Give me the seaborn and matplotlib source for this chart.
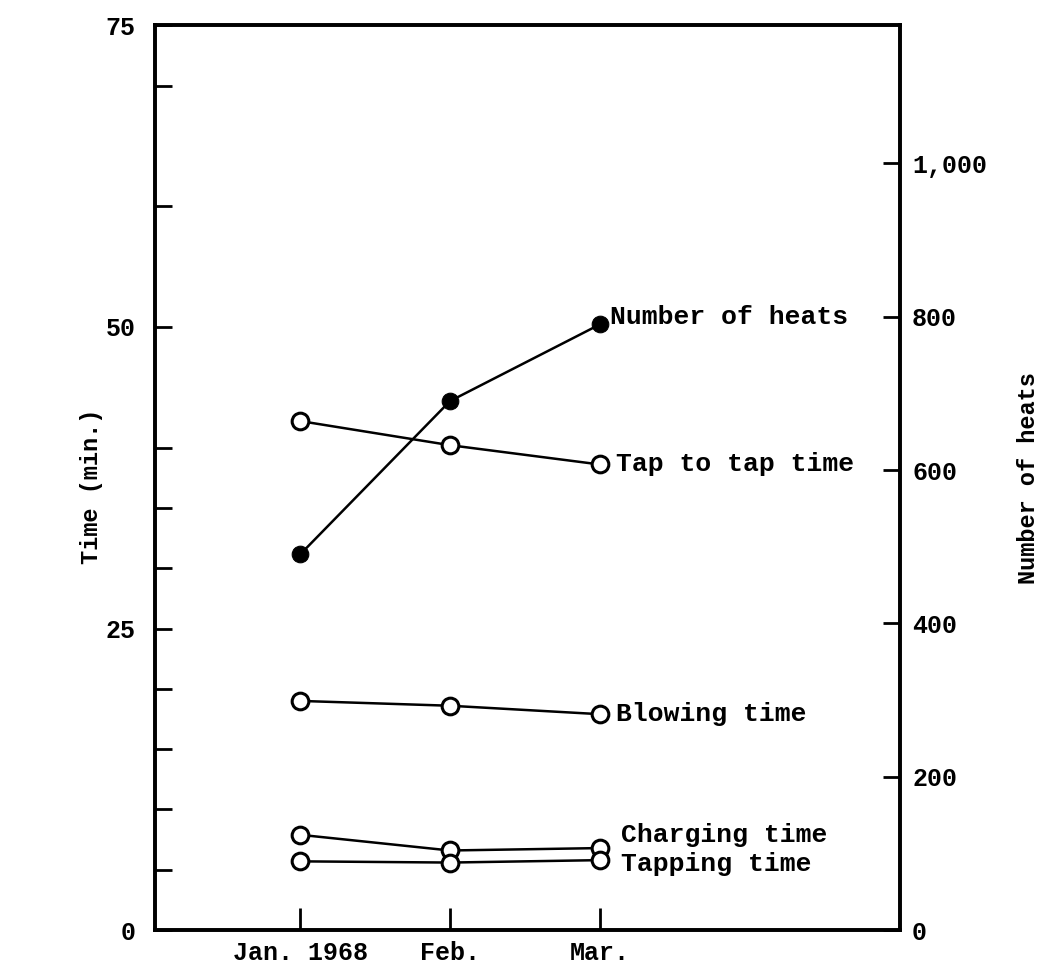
import seaborn as sns
import matplotlib.pyplot as plt
import pandas as pd
import numpy as np

sns.set_style("ticks")
plt.rcParams['font.family'] = ['Liberation Mono', 'DejaVu Sans Mono']
plt.rcParams['font.weight'] = 'bold'
plt.rcParams['text.color'] = 'black'
plt.rcParams['xtick.color'] = 'black'
plt.rcParams['ytick.color'] = 'black'
plt.rcParams['axes.edgecolor'] = 'black'
plt.rcParams['axes.labelcolor'] = 'black'

# Data
months = ['Jan. 1968', 'Feb.', 'Mar.']
month_pos = [0, 1, 2]
tap_to_tap = [42.2, 40.2, 38.6]
blowing = [19.0, 18.6, 17.9]
charging = [7.9, 6.6, 6.8]
tapping = [5.7, 5.6, 5.8]
heats = [490, 690, 790]

left_ticks = [0, 5, 10, 15, 20, 25, 30, 35, 40, 50, 60, 70, 75]
right_ticks = [0, 200, 400, 600, 800, 1000]

fig = plt.figure(figsize=(10.46, 9.77), dpi=100)
ax = fig.add_axes([0.148, 0.048, 0.712, 0.926])
ax2 = ax.twinx()

open_style = dict(color='black', linewidth=1.8, marker='o', markersize=12,
                  markerfacecolor='white', markeredgecolor='black',
                  markeredgewidth=2.2)
for vals in [tap_to_tap, blowing, charging, tapping]:
    sns.lineplot(x=month_pos, y=vals, ax=ax, **open_style)

sns.lineplot(x=month_pos, y=heats, ax=ax2, color='black', linewidth=1.8,
             marker='o', markersize=12, markerfacecolor='black',
             markeredgecolor='black')

ax.set_xlim(-0.97, 4.0)
ax.set_ylim(0, 75)
ax2.set_ylim(0, 1180)

ax.set_xticks(month_pos)
ax.set_xticklabels(months)
ax.set_yticks(left_ticks)
ax.set_yticklabels([str(t) if t in (0, 25, 50, 75) else '' for t in left_ticks])
ax2.set_yticks(right_ticks)
ax2.set_yticklabels([f'{t:,}' for t in right_ticks])

for a in (ax, ax2):
    for s in a.spines.values():
        s.set_linewidth(2.6)
        s.set_visible(True)
    a.tick_params(direction='in', length=12, width=2, labelsize=18, pad=10)
ax.tick_params(axis='x', length=16, pad=8)
ax.tick_params(axis='y', pad=14)
ax2.tick_params(axis='y', pad=9)

ax.set_ylabel('Time (min.)', fontsize=17, fontweight='bold')
ax2.set_ylabel('Number of heats', fontsize=17, fontweight='bold')
ax.yaxis.set_label_coords(-0.07, 0.49)
ax2.yaxis.set_label_coords(1.158, 0.5)
ax.set_xlabel('')
ax2.set_xlabel('')

# Series labels at the right end of each line
ax2.text(2.07, heats[2] + 10, 'Number of heats', fontsize=19, va='center')
ax.text(2.11, tap_to_tap[2], 'Tap to tap time', fontsize=19, va='center')
ax.text(2.11, blowing[2], 'Blowing time', fontsize=19, va='center')
ax.text(2.14, charging[2] + 1.1, 'Charging time', fontsize=19, va='center')
ax.text(2.14, tapping[2] - 0.3, 'Tapping time', fontsize=19, va='center')

fig.savefig('out.png', dpi=100, facecolor='white')
plt.close(fig)
